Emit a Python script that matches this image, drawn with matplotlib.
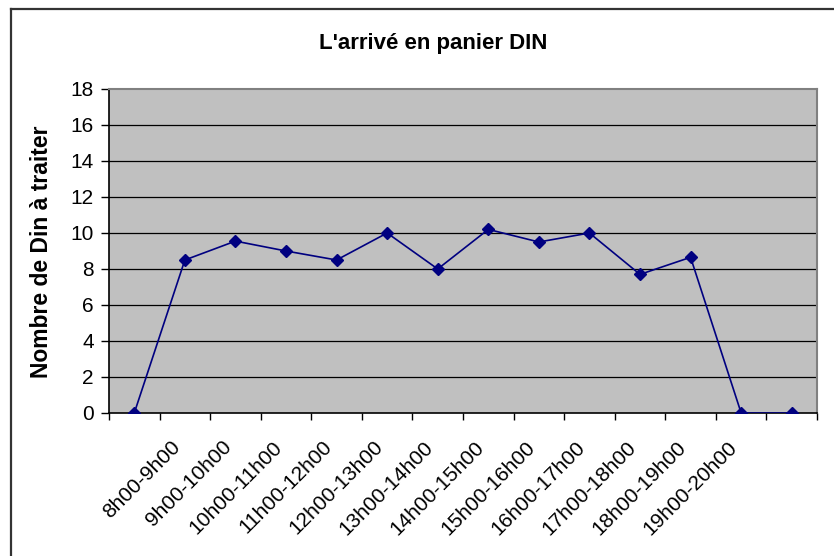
import matplotlib
matplotlib.use("Agg")
import matplotlib.pyplot as plt
from matplotlib.lines import Line2D

categories = ["", "8h00-9h00", "9h00-10h00", "10h00-11h00", "11h00-12h00", "12h00-13h00",
              "13h00-14h00", "14h00-15h00", "15h00-16h00", "16h00-17h00", "17h00-18h00",
              "18h00-19h00", "19h00-20h00", ""]
values = [0, 8.5, 9.55, 9.0, 8.5, 10.0, 8.0, 10.2, 9.5, 10.0, 7.7, 8.65, 0, 0]
yticks = [0, 2, 4, 6, 8, 10, 12, 14, 16, 18]

plt.rcParams['font.family'] = ['Liberation Sans', 'DejaVu Sans']

W, H = 834, 556
fig = plt.figure(figsize=(W / 100, H / 100), dpi=100)
fig.patch.set_facecolor('white')

# outer chart frame (only top and left visible)
fig.add_artist(Line2D([11 / W, 11 / W], [0, 1 - 9 / H], transform=fig.transFigure,
                      color='#333333', lw=1.6))
fig.add_artist(Line2D([11 / W, 1], [1 - 9 / H, 1 - 9 / H], transform=fig.transFigure,
                      color='#333333', lw=1.6))

left, right, top, bottom = 109, 817, 89, 413
ax = fig.add_axes([left / W, 1 - bottom / H, (right - left) / W, (bottom - top) / H])
ax.set_facecolor('#C0C0C0')

n = len(categories)
x = [i + 0.5 for i in range(n)]
ax.set_xlim(0, n)
ax.set_ylim(0, 18)

for yv in yticks[1:-1]:
    ax.axhline(yv, color='black', lw=0.9, zorder=1)

ax.plot(x, values, color='#000080', lw=1.2, marker='D', markersize=6.5,
        markerfacecolor='#000080', markeredgecolor='#000080', zorder=3)

ax.set_yticks(yticks)
ax.set_yticklabels([str(v) for v in yticks], fontsize=15)
ax.set_xticks(range(n + 1))
ax.set_xticklabels([])
ax.tick_params(axis='x', which='major', length=5, width=1, color='black', direction='out')
ax.tick_params(axis='y', length=6, width=1, color='black', direction='out', pad=5)

for xi, lab in zip(x, categories):
    if lab:
        ax.annotate(lab, xy=(xi, 0), xycoords=('data', 'axes fraction'),
                    xytext=(-10, -17.5), textcoords='offset points', rotation=45,
                    ha='right', va='top', rotation_mode='anchor', fontsize=15,
                    annotation_clip=False)

for s in ['left', 'bottom']:
    ax.spines[s].set_color('black')
    ax.spines[s].set_linewidth(1.2)
for s in ['top', 'right']:
    ax.spines[s].set_color('#808080')
    ax.spines[s].set_linewidth(1.5)

fig.text(42 / W, 1 - 252 / H, "Nombre de Din à traiter", rotation=90, ha='center',
         va='center', fontsize=16.5, fontweight='bold')
fig.text(433 / W, 1 - 44 / H, "L'arrivé en panier DIN", ha='center',
         va='center', fontsize=16, fontweight='bold')

fig.savefig("out.png", dpi=100)
